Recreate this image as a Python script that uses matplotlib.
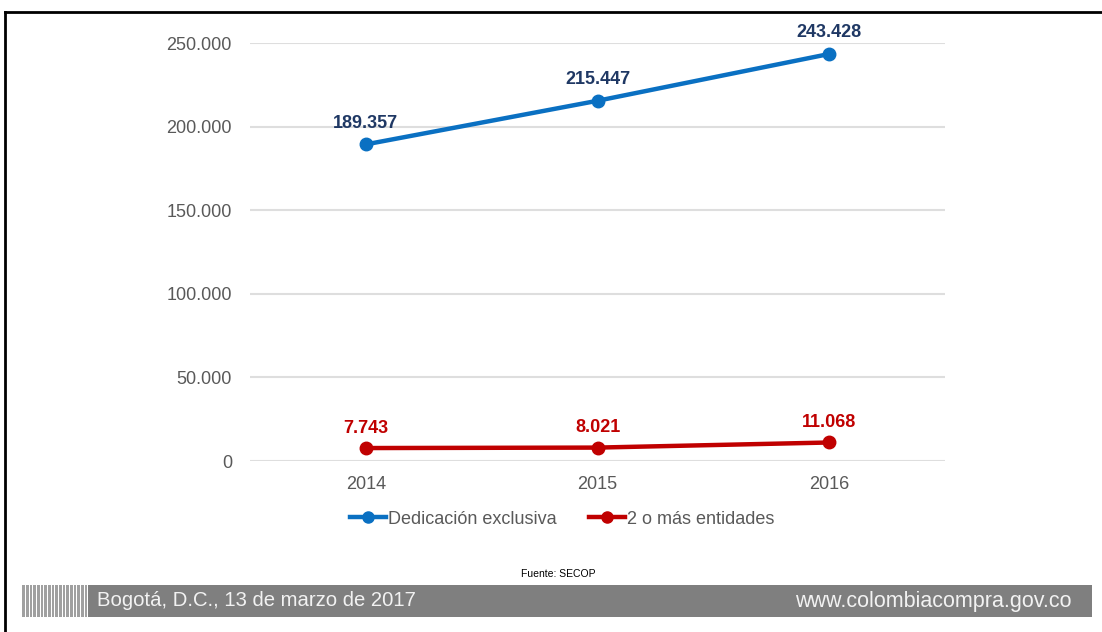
import matplotlib.pyplot as plt
from matplotlib.patches import Rectangle
from matplotlib.lines import Line2D

years = ["2014", "2015", "2016"]
dedicacion = [189357, 215447, 243428]
entidades = [7743, 8021, 11068]
yticks = [0, 50000, 100000, 150000, 200000, 250000]
ytick_labels = ["0", "50.000", "100.000", "150.000", "200.000", "250.000"]

plt.rcParams["font.family"] = ["Liberation Sans", "DejaVu Sans"]

W, H = 1102, 632
fig = plt.figure(figsize=(W / 100, H / 100), dpi=100)
fig.patch.set_facecolor("white")


def fx(px):
    return px / W


def fy(py):
    return 1 - py / H


def fmt(v):
    return f"{v:,}".replace(",", ".")


ax = fig.add_axes([fx(250), fy(461), fx(945) - fx(250), fy(43) - fy(461)])
x = list(range(len(years)))

blue, red = "#0a70c2", "#c00000"
ax.plot(x, dedicacion, color=blue, lw=3.2, marker="o", ms=9, zorder=3)
ax.plot(x, entidades, color=red, lw=3.2, marker="o", ms=9, zorder=3)

for xi, v in zip(x, dedicacion):
    ax.annotate(fmt(v), (xi, v), xytext=(0, 9), textcoords="offset points",
                ha="center", va="bottom", fontsize=13, fontweight="bold",
                color="#1f3864", annotation_clip=False)
for xi, v in zip(x, entidades):
    ax.annotate(fmt(v), (xi, v), xytext=(0, 8), textcoords="offset points",
                ha="center", va="bottom", fontsize=13, fontweight="bold",
                color="#c00000", annotation_clip=False)

ax.set_xlim(-0.5, 2.5)
ax.set_ylim(0, 250000)
ax.set_yticks(yticks)
ax.set_yticklabels(ytick_labels)
ax.set_xticks(x)
ax.set_xticklabels(years)
ax.grid(axis="y", color="#dedede", lw=1.5)
ax.grid(axis="x", visible=False)
ax.set_axisbelow(True)
for s in ax.spines.values():
    s.set_visible(False)
ax.tick_params(length=0, labelsize=13, labelcolor="#595959")
ax.tick_params(axis="y", pad=13)
ax.tick_params(axis="x", pad=11)

handles = [Line2D([], [], color=blue, lw=3.2, marker="o", ms=8),
           Line2D([], [], color=red, lw=3.2, marker="o", ms=8)]
fig.legend(handles, ["Dedicación exclusiva", "2 o más entidades"],
           loc="center", bbox_to_anchor=(fx(562), fy(519)), ncol=2, frameon=False,
           fontsize=13, labelcolor="#595959", handlelength=2.0, handletextpad=0.1,
           columnspacing=1.8)

fig.text(fx(558), fy(574), "Fuente: SECOP", fontsize=7.5, ha="center", va="center")

# frame lines
fig.add_artist(Line2D([fx(5), 1], [fy(12), fy(12)], color="black", lw=2))
fig.add_artist(Line2D([fx(5), fx(5)], [fy(12), 0], color="black", lw=2))

# footer bar
fig.add_artist(Rectangle((fx(88), fy(617)), fx(1092) - fx(88), fy(585) - fy(617),
                         transform=fig.transFigure, color="#7f7f7f", lw=0))
stripes = [(22, 3), (26, 3), (30, 2), (33, 3), (37, 3), (41, 2), (44, 3), (48, 3),
           (52, 2), (55, 3), (59, 3), (63, 2), (66, 3), (70, 3), (74, 2), (77, 3),
           (81, 3), (85, 2)]
for sx, sw in stripes:
    fig.add_artist(Rectangle((fx(sx), fy(617)), fx(sw), fy(585) - fy(617),
                             transform=fig.transFigure, color="#a0a0a0", lw=0))
fig.text(fx(97), fy(601), "Bogotá, D.C., 13 de marzo de 2017", fontsize=14.6,
         color="#f2f2f2", ha="left", va="center")
fig.text(fx(1072), fy(601), "www.colombiacompra.gov.co", fontsize=15.5,
         color="#f2f2f2", ha="right", va="center")

fig.savefig("out.png", dpi=100)
